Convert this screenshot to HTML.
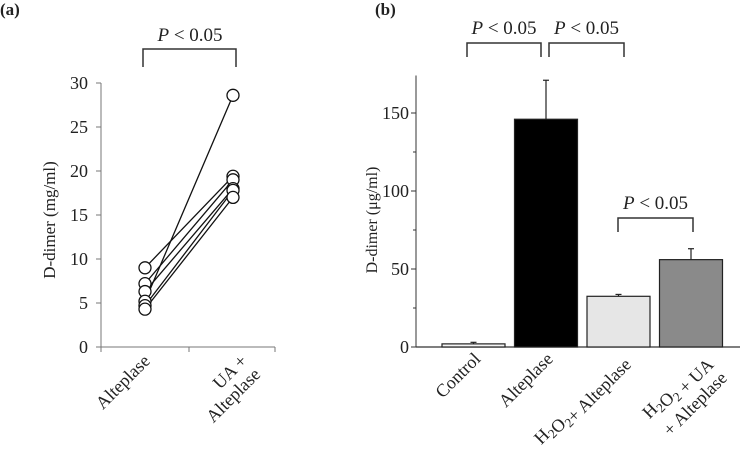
<!DOCTYPE html>
<html><head><meta charset="utf-8"><style>
body{margin:0;background:#fff}
svg{display:block;font-family:"Liberation Serif",serif;fill:#222}
</style></head><body>
<svg id="c" width="750" height="453" viewBox="0 0 750 453">
<text x="0" y="15" font-size="17" font-weight="bold">(a)</text>
<text x="375" y="15" font-size="17" font-weight="bold">(b)</text>
<g id="ga"></g>
<g id="gb"></g>
</svg>
<script>
// Panel a data
const aCats = ["Alteplase", "UA + Alteplase"];
const aLeft = [9.0, 7.2, 6.3, 5.2, 4.7, 4.3];
const aRight = [19.4, 19.0, 18.0, 28.6, 17.8, 17.0];
const aTicks = [0, 5, 10, 15, 20, 25, 30];
// Panel b data
const bCats = ["Control", "Alteplase", "H2O2+ Alteplase", "H2O2 + UA + Alteplase"];
const bVals = [2, 146, 32.5, 56];
const bErr = [1, 25, 1.2, 7];
const bTicks = [0, 50, 100, 150];
const bColors = ["#f4f4f4", "#000000", "#e6e6e6", "#8a8a8a"];

const NS = "http://www.w3.org/2000/svg";
function mk(parent, tag, attrs, text) {
  const e = document.createElementNS(NS, tag);
  for (const k in attrs) e.setAttribute(k, attrs[k]);
  if (text !== undefined) e.textContent = text;
  parent.appendChild(e);
  return e;
}
const ga = document.getElementById("ga"), gb = document.getElementById("gb");
const FS = 18;

// ---- Panel a ----
const ay = v => 347 - v * 8.8;
const ax = i => 145 + i * 88;
let e;
e = mk(ga, "line", {x1:101, y1:ay(30), x2:101, y2:347, stroke:"#777"});
 
e = mk(ga, "line", {x1:101, y1:347, x2:275, y2:347, stroke:"#777"});
 
[101, 189, 275].forEach(x => { mk(ga, "line", {x1:x, y1:347, x2:x, y2:352, stroke:"#777"}); });
aTicks.forEach(t => {
  mk(ga, "line", {x1:96, y1:ay(t), x2:101, y2:ay(t), stroke:"#777"});
  e = mk(ga, "text", {x:88, y:ay(t)+6, "font-size":FS, "text-anchor":"end"}, t);
   
});
e = mk(ga, "text", {x:0, y:0, "font-size":17, "text-anchor":"middle", transform:"translate(55,220) rotate(-90)"}, "D-dimer (mg/ml)");
 
aLeft.forEach((v, i) => {
  e = mk(ga, "line", {x1:ax(0), y1:ay(v), x2:ax(1), y2:ay(aRight[i]), stroke:"#111", "stroke-width":1.3});
   
});
aLeft.forEach((v, i) => {
  [[0, v], [1, aRight[i]]].forEach(([c, val]) => {
    e = mk(ga, "circle", {cx:ax(c), cy:ay(val), r:6, fill:"#fff", stroke:"#111", "stroke-width":1.3});
     
  });
});
aCats.forEach((c, i) => {
  const lines = i === 0 ? ["Alteplase"] : ["UA +", "Alteplase"];
  const t = mk(ga, "text", {"font-size":FS, "text-anchor":"end", transform:`translate(${ax(i)+6 + (lines.length-1)*9},362) rotate(-45)`});
   
  lines.forEach((l, j) => { mk(t, "tspan", {x:0, dy: j ? 19 : 0}, l); });
});
e = mk(ga, "path", {d:`M${ax(0)-2},67 V49 H${ax(1)+3} V67`, fill:"none", stroke:"#333", "stroke-width":1.5});
 
e = mk(ga, "text", {x:190, y:41, "font-size":19, "text-anchor":"middle"});
 
mk(e, "tspan", {"font-style":"italic"}, "P"); mk(e, "tspan", {}, " < 0.05");

// ---- Panel b ----
const by = v => 347 - v * 1.56;
const bx0 = i => 442 + i * 72.5, bw = 63;
mk(gb, "line", {x1:416, y1:by(174), x2:416, y2:347, stroke:"#333"});
mk(gb, "line", {x1:416, y1:347, x2:740, y2:347, stroke:"#333", "stroke-width":1.3});
[25, 75, 125].forEach(t => { mk(gb, "line", {x1:413, y1:by(t), x2:416, y2:by(t), stroke:"#333"}); });
bTicks.forEach(t => {
  mk(gb, "line", {x1:411, y1:by(t), x2:416, y2:by(t), stroke:"#333"});
  e = mk(gb, "text", {x:409, y:by(t)+6, "font-size":FS, "text-anchor":"end"}, t);
   
});
e = mk(gb, "text", {x:0, y:0, "font-size":16, "text-anchor":"middle", transform:"translate(377,220) rotate(-90)"}, "D-dimer (μg/ml)");
 
bVals.forEach((v, i) => {
  const x = bx0(i), cx = x + bw/2;
  e = mk(gb, "line", {x1:cx, y1:by(v), x2:cx, y2:by(v + bErr[i]), stroke:"#222", "stroke-width":1.2});
   
  mk(gb, "line", {x1:cx-3, y1:by(v + bErr[i]), x2:cx+3, y2:by(v + bErr[i]), stroke:"#222", "stroke-width":1.2});
  e = mk(gb, "rect", {x:x, y:by(v), width:bw, height:347 - by(v), fill:bColors[i], stroke:"#222", "stroke-width":1.2});
   
});
function lbl(i, lines) {
  const cx = bx0(i) + bw/2;
  const t = mk(gb, "text", {"font-size":FS, "text-anchor":"end", transform:`translate(${cx + 8 + (lines.length-1)*10},360) rotate(-45)`});
   
  lines.forEach((l, j) => {
    const sp = mk(t, "tspan", {x:0, dy: j ? 19 : 0});
    l.forEach(p => { if (p[1]) { mk(sp, "tspan", {"font-size":13, dy:4}, p[0]); mk(sp, "tspan", {dy:-4}, ""); } else mk(sp, "tspan", {}, p[0]); });
  });
}
lbl(0, [[["Control"]]]);
lbl(1, [[["Alteplase"]]]);
lbl(2, [[["H"],["2",1],["O"],["2",1],["+ Alteplase"]]]);
lbl(3, [[["H"],["2",1],["O"],["2",1],[" + UA"]], [["+ Alteplase"]]]);
function bracket(i, j, top, bot, tx) {
  e = mk(gb, "path", {d:`M${tx[0]},${bot} V${top} H${tx[1]} V${bot}`, fill:"none", stroke:"#333", "stroke-width":1.5});
   
  e = mk(gb, "text", {x:(tx[0]+tx[1])/2, y:top-9, "font-size":19, "text-anchor":"middle"});
   
  mk(e, "tspan", {"font-style":"italic"}, "P"); mk(e, "tspan", {}, " < 0.05");
}
bracket(0, 1, 43, 57, [467, 541]);
bracket(1, 2, 43, 57, [549, 624]);
bracket(2, 3, 218, 232, [618, 693]);
</script>
</body></html>
